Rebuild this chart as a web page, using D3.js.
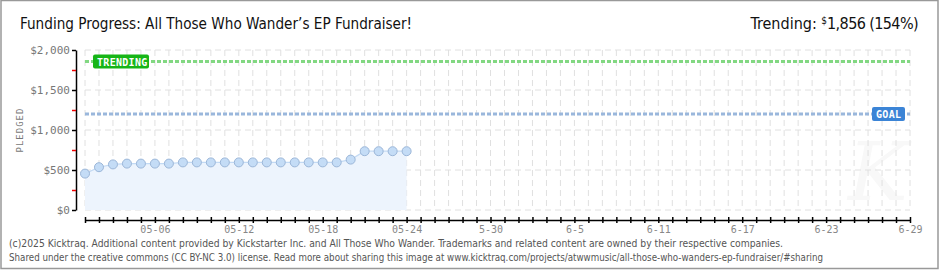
<!DOCTYPE html>
<html>
<head>
<meta charset="utf-8">
<script src="https://cdn.jsdelivr.net/npm/d3@7"></script>
<style>
  body { margin: 0; background: #fff; }
  svg { display: block; }
  .pix { font-family: "DejaVu Sans Mono", monospace; }
</style>
</head>
<body>
<div id="chart"></div>
<script>
// kicktraq funding chart

const days = d3.timeDay.range(new Date(2025, 4, 1), new Date(2025, 5, 30));
const pledged = [455, 535, 570, 580, 580, 580, 580, 595, 595, 595, 595, 595, 595,
  595, 595, 595, 595, 595, 595, 630, 735, 735, 735, 735];
const yTicks = [0, 250, 500, 750, 1000, 1250, 1500, 1750, 2000];
const xLabels = ["05-06", "05-12", "05-18", "05-24", "5-30", "6-5", "6-11", "6-17", "6-23", "6-29"];
const goal = 1200;
const trending = 1856;
const trendingPct = 154;

const W = 940, H = 270;
const svg = d3.select("#chart").append("svg").attr("width", W).attr("height", H);
const sans = "'DejaVu Sans Condensed', 'Liberation Sans Narrow', sans-serif";

// frame
svg.append("rect").attr("x", 1).attr("y", 0.5).attr("width", 937).attr("height", 268)
  .attr("fill", "#fff").attr("stroke", "#999").attr("stroke-width", 1.5);

const x = d3.scaleTime().domain([days[0], days[days.length - 1]]).range([85, 910]);
const y = d3.scaleLinear().domain([0, 2000]).range([210, 50]);

// watermark
svg.append("text").attr("x", 878).attr("y", 200).attr("text-anchor", "middle")
  .attr("font-family", "DejaVu Serif").attr("font-style", "italic")
  .attr("font-size", 80).attr("fill", "#f8f8f8").text("K");

// grid
const grid = svg.append("g").attr("stroke", "#e0e0e0").attr("stroke-dasharray", "6,4");
grid.selectAll("line.v").data(days).join("line").attr("class", "v")
  .attr("x1", d => x(d)).attr("x2", d => x(d)).attr("y1", 50).attr("y2", 210);
grid.selectAll("line.h").data(yTicks.filter(d => d % 500 === 0)).join("line").attr("class", "h")
  .attr("x1", 85).attr("x2", 910).attr("y1", d => y(d)).attr("y2", d => y(d));

// area + line
const pts = pledged.map((v, i) => ({ date: days[i], value: v }));
svg.append("path").datum(pts).attr("fill", "#edf4fd")
  .attr("d", d3.area().x(d => x(d.date)).y0(y(0)).y1(d => y(d.value)));
svg.append("path").datum(pts).attr("fill", "none").attr("stroke", "#c3daf4").attr("stroke-width", 1.2)
  .attr("d", d3.line().x(d => x(d.date)).y(d => y(d.value)));

// goal + trending lines
svg.append("line").attr("x1", 85).attr("x2", 910).attr("y1", y(goal)).attr("y2", y(goal))
  .attr("stroke", "#9ab7dc").attr("stroke-width", 3).attr("stroke-dasharray", "4,2");
svg.append("line").attr("x1", 85).attr("x2", 910).attr("y1", y(trending)).attr("y2", y(trending))
  .attr("stroke", "#82d882").attr("stroke-width", 3).attr("stroke-dasharray", "4,2");

function tag(xc, yc, w, fill, txt) {
  svg.append("rect").attr("x", xc).attr("y", yc - 7).attr("width", w).attr("height", 14)
    .attr("rx", 2).attr("fill", fill);
  svg.append("text").attr("class", "pix").attr("x", xc + 4).attr("y", yc + 4)
    .attr("font-size", 10).attr("font-weight", "bold").attr("fill", "#fff")
    .attr("letter-spacing", 0.3).text(txt);
}
tag(93, y(trending), 56, "#17b517", "TRENDING");
tag(872, y(goal), 33, "#3b84d6", "GOAL");

// points
svg.append("g").selectAll("circle").data(pts).join("circle")
  .attr("cx", d => x(d.date)).attr("cy", d => y(d.value)).attr("r", 4.5)
  .attr("fill", "#c4dcf6").attr("stroke", "#9bb6d8").attr("stroke-width", 1);

// y axis
const yAxis = svg.append("g").attr("transform", "translate(76,0)")
  .call(d3.axisLeft(y).tickValues(yTicks).tickSize(4).tickSizeOuter(0)
    .tickFormat(d => d % 500 === 0 ? "$" + d3.format(",")(d) : ""));
yAxis.select(".domain").attr("stroke", "#000").attr("stroke-width", 1.5);
yAxis.selectAll(".tick line").attr("stroke", d => d % 500 === 0 ? "#000" : "#e00")
  .attr("stroke-width", 1.5);
yAxis.selectAll(".tick text").attr("class", "pix").attr("font-size", 11)
  .attr("fill", "#777").attr("x", -6);

svg.append("text").attr("class", "pix").attr("transform", "translate(23,130) rotate(-90)")
  .attr("text-anchor", "middle").attr("font-size", 9).attr("fill", "#777")
  .attr("letter-spacing", 1).text("PLEDGED");

// x axis
const xAxis = svg.append("g").attr("transform", "translate(0,220)")
  .call(d3.axisBottom(x).tickValues(days).tickSize(3).tickSizeOuter(0)
    .tickFormat((d, i) => (i - 5) % 6 === 0 ? xLabels[(i - 5) / 6] : ""));
xAxis.select(".domain").attr("stroke", "#000").attr("stroke-width", 1.5);
xAxis.selectAll(".tick line").attr("stroke", "#000").attr("y1", -3).attr("stroke-width", 1.5);
xAxis.selectAll(".tick text").attr("class", "pix").attr("font-size", 10)
  .attr("fill", "#888").attr("y", 6);

// titles
svg.append("text").attr("x", 20).attr("y", 29)
  .attr("font-family", sans).attr("font-size", 16).attr("fill", "#111")
  .attr("textLength", 392).attr("lengthAdjust", "spacingAndGlyphs")
  .text("Funding Progress: All Those Who Wander\u2019s EP Fundraiser!");

const tr = svg.append("text").attr("x", 918).attr("y", 29).attr("text-anchor", "end")
  .attr("font-family", sans).attr("font-size", 16).attr("fill", "#111");
tr.append("tspan").text("Trending:  ");
tr.append("tspan").attr("font-size", 10).attr("dy", -5).text("$");
tr.append("tspan").attr("dy", 5).attr("letter-spacing", -0.6)
  .text(d3.format(",")(trending) + " (" + trendingPct + "%)");

// footer
const foot = svg.append("g").attr("font-family", sans).attr("font-size", 10).attr("fill", "#555");
foot.append("text").attr("x", 9).attr("y", 247)
  .attr("textLength", 774).attr("lengthAdjust", "spacingAndGlyphs")
  .text("(c)2025 Kicktraq. Additional content provided by Kickstarter Inc. and All Those Who Wander. Trademarks and related content are owned by their respective companies.");
foot.append("text").attr("x", 9).attr("y", 261)
  .attr("textLength", 814).attr("lengthAdjust", "spacingAndGlyphs")
  .text("Shared under the creative commons (CC BY-NC 3.0) license. Read more about sharing this image at www.kicktraq.com/projects/atwwmusic/all-those-who-wanders-ep-fundraiser/#sharing");
</script>
</body>
</html>
